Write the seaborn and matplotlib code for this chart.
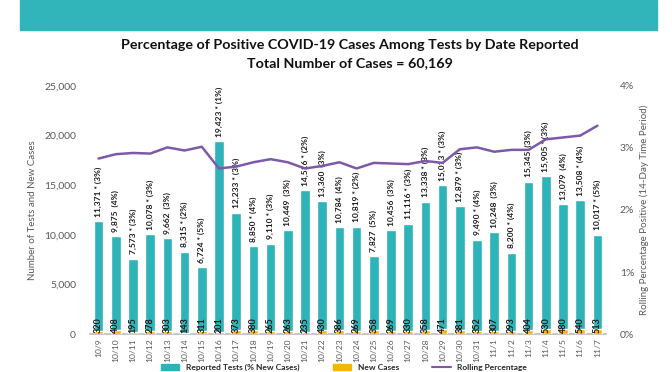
import matplotlib
matplotlib.use("Agg")
import matplotlib.pyplot as plt
from matplotlib.patches import Rectangle, Patch
from matplotlib.lines import Line2D
from matplotlib.ticker import FuncFormatter
import seaborn as sns
import pandas as pd
import numpy as np

# ---------------------------------------------------------
# DATA
# ---------------------------------------------------------
dates = ['10/9', '10/10', '10/11', '10/12', '10/13', '10/14', '10/15', '10/16',
         '10/17', '10/18', '10/19', '10/20', '10/21', '10/22', '10/23', '10/24',
         '10/25', '10/26', '10/27', '10/28', '10/29', '10/30', '10/31', '11/1',
         '11/2', '11/3', '11/4', '11/5', '11/6', '11/7']

tests = [11371, 9875, 7573, 10078, 9662, 8315, 6724, 19423,
         12233, 8850, 9110, 10449, 14516, 13360, 10784, 10819,
         7827, 10456, 11116, 13338, 15013, 12879, 9490, 10248,
         8200, 15345, 15905, 13079, 13508, 10017]

# '*' marker shown in the bar labels
starred = [True, False, True, True, False, True, True, True,
           True, True, True, False, True, False, False, True,
           False, False, True, True, True, True, True, False,
           True, False, True, False, True, True]

pct_new = [3, 4, 3, 3, 3, 2, 5, 1,
           3, 4, 3, 3, 2, 3, 4, 2,
           5, 3, 3, 3, 3, 3, 4, 3,
           4, 3, 3, 4, 4, 5]

new_cases = [320, 408, 195, 278, 303, 143, 311, 201,
             373, 380, 265, 263, 235, 430, 386, 269,
             358, 269, 330, 358, 471, 381, 352, 307,
             293, 404, 530, 480, 540, 513]

# rolling 14-day percent positive (fraction)
rolling = [0.0283, 0.0290, 0.0292, 0.0291, 0.0301, 0.0296, 0.0302, 0.0267,
           0.0270, 0.0277, 0.0282, 0.0277, 0.0267, 0.0271, 0.0277, 0.0267,
           0.0276, 0.0275, 0.0274, 0.0279, 0.0276, 0.0298, 0.0301, 0.0294,
           0.0297, 0.0297, 0.0314, 0.0317, 0.0320, 0.0336]

df = pd.DataFrame({'date': dates, 'tests': tests, 'new_cases': new_cases,
                   'rolling': rolling, 'pos': np.arange(len(dates))})

TEAL = '#2db3b8'
GOLD = '#f5b800'
PURPLE = '#7d59a8'
GREY = '#595959'

# ---------------------------------------------------------
# PLOTTING
# ---------------------------------------------------------
sns.set_theme(style="white")
plt.rcParams['font.family'] = ['Lato', 'DejaVu Sans']

fig = plt.figure(figsize=(6.72, 3.72), dpi=100)

# teal banner across the top
fig.patches.append(Rectangle((20 / 672, 1 - 30 / 372), 637 / 672, 30 / 372,
                             transform=fig.transFigure, color='#31b4ba', zorder=0))

fig.text(0.52, 1 - 45 / 372, "Percentage of Positive COVID-19 Cases Among Tests by Date Reported",
         ha='center', va='center', fontsize=10.3, fontweight='bold', color='#111111')
fig.text(0.52, 1 - 63 / 372, "Total Number of Cases = 60,169",
         ha='center', va='center', fontsize=10.3, fontweight='bold', color='#111111')

ax = fig.add_axes([90 / 672, 1 - 334 / 372, 516 / 672, 248 / 372])

sns.barplot(data=df, x='date', y='tests', color=TEAL, width=0.55,
            saturation=1, ax=ax, zorder=2)
sns.barplot(data=df, x='date', y='new_cases', color=GOLD, width=0.55,
            saturation=1, ax=ax, zorder=3)

for i in range(len(dates)):
    star = ' * ' if starred[i] else '  '
    label = f"{tests[i]:,}{star}({pct_new[i]}%)"
    ax.text(i, tests[i] + 450, label, rotation=90, ha='center', va='bottom',
            fontsize=6, fontweight='bold', color='#1a1a1a', zorder=5)
    ax.text(i, 60, str(new_cases[i]), rotation=90, ha='center', va='bottom',
            fontsize=6.5, fontweight='bold', color='#1a1a1a', zorder=5)

ax.set_ylim(0, 25000)
ax.set_yticks(range(0, 25001, 5000))
ax.yaxis.set_major_formatter(FuncFormatter(lambda v, p: f"{int(v):,}"))
ax.set_xlabel("")
ax.set_ylabel("Number of Tests and New Cases", fontsize=7, color=GREY, labelpad=5)
ax.tick_params(axis='y', labelsize=7.5, colors=GREY, length=0, pad=10)
ax.tick_params(axis='x', labelsize=6.1, colors=GREY, length=0, rotation=90, pad=3)
for s in ['top', 'left', 'right']:
    ax.spines[s].set_visible(False)
ax.spines['bottom'].set_color('#bfbfbf')

ax2 = ax.twinx()
sns.lineplot(data=df, x='pos', y='rolling', color=PURPLE, linewidth=1.8, ax=ax2, zorder=4)
ax2.set_ylim(0, 0.04)
ax2.set_yticks([0, 0.01, 0.02, 0.03, 0.04])
ax2.yaxis.set_major_formatter(FuncFormatter(lambda v, p: f"{v * 100:.0f}%"))
ax2.set_ylabel("Rolling Percentage Positive (14-Day Time Period)", fontsize=7,
               color=GREY, labelpad=4)
ax2.tick_params(axis='y', labelsize=7.5, colors=GREY, length=0, pad=10)
for s in ['top', 'left', 'right', 'bottom']:
    ax2.spines[s].set_visible(False)
ax.set_xlim(-0.5, len(dates) - 0.5)
ax2.set_xlim(-0.5, len(dates) - 0.5)

handles = [Patch(color=TEAL), Patch(color=GOLD), Line2D([], [], color=PURPLE, lw=1.5)]
labels = ["Reported Tests (% New Cases)", "New Cases", "Rolling Percentage"]
fig.legend(handles, labels, loc='center', bbox_to_anchor=(0.512, 1 - 367.5 / 372),
           ncol=3, frameon=False, handlelength=2.2, handleheight=0.6, columnspacing=4,
           borderpad=0, prop={'weight': 'bold', 'size': 6})

plt.savefig('out.png', dpi=100)
